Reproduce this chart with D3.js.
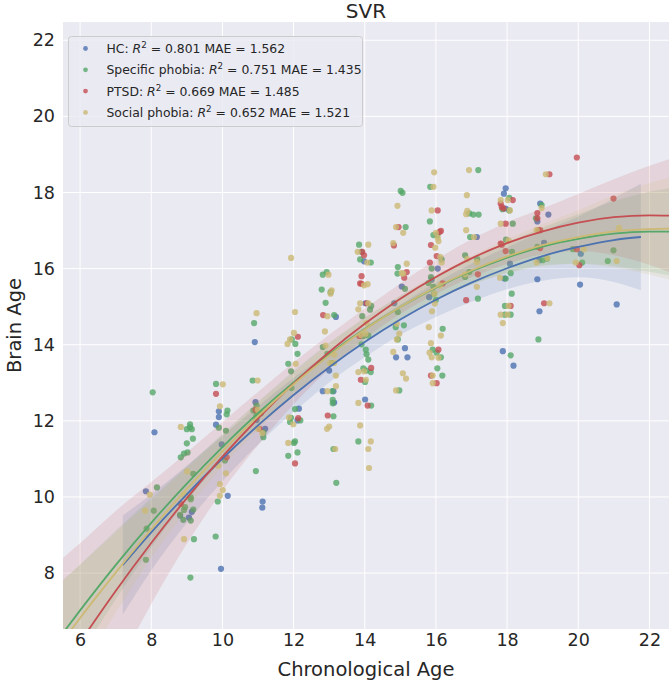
<!DOCTYPE html>
<html><head><meta charset="utf-8">
<script src="https://cdn.jsdelivr.net/npm/d3@7"></script>
<style>body{margin:0;background:#fff}svg{display:block}text{font-family:"DejaVu Sans",sans-serif;fill:#262626}</style>
</head><body><svg id="c" width="669" height="682"></svg>
<script>
// ---- data ----
const groups = ["HC", "Specific phobia", "PTSD", "Social phobia"];
const colors = ["#4C72B0", "#55A868", "#C44E52", "#CCB974"];
const r2 = ["0.801", "0.751", "0.669", "0.652"];
const mae = ["1.562", "1.435", "1.485", "1.521"];
const xTicks = [6, 8, 10, 12, 14, 16, 18, 20, 22];
const yTicks = [8, 10, 12, 14, 16, 18, 20, 22];

const hcPoints = [[8.09,11.70],[7.85,10.15],[8.81,9.51],[9.14,9.61],[9.06,9.46],[9.90,12.25],[9.90,12.10],[9.82,11.90],[9.98,11.38],[10.15,10.03],[9.96,8.11],[10.91,14.07],[10.93,12.49],[10.96,12.02],[11.2,11.79],[11.13,9.88],[11.12,9.72],[12.15,12.32],[12.11,12.01],[13.19,14.73],[13.0,13.32],[12.82,12.78],[13.12,12.78],[13.14,12.48],[13.98,16.19],[14.02,15.09],[14.01,12.56],[15.04,15.53],[14.83,15.09],[14.88,13.67],[15.13,13.91],[15.20,13.67],[16.05,16.0],[15.88,15.71],[15.81,15.25],[17.15,16.83],[17.96,18.11],[17.91,17.97],[17.96,17.58],[18.08,16.13],[17.93,15.74],[17.88,13.83],[18.18,13.45],[18.93,17.71],[19.16,17.42],[18.85,17.24],[19.04,16.68],[18.91,16.22],[18.85,15.72],[18.91,14.88],[20.07,16.39],[20.05,15.58],[21.08,15.06]];
const spPoints = [[8.04,12.75],[8.16,10.25],[8.07,9.64],[7.87,9.17],[7.85,8.35],[9.09,11.91],[9.09,11.83],[9.00,11.78],[9.14,11.78],[9.17,11.53],[9.00,11.41],[9.02,11.17],[8.92,11.14],[8.83,11.04],[9.18,10.61],[9.11,9.99],[9.11,9.94],[8.95,9.73],[8.92,9.66],[9.18,9.67],[8.81,9.53],[8.90,9.40],[9.11,9.38],[9.20,8.89],[9.10,7.88],[9.82,12.97],[10.14,12.27],[10.12,12.17],[9.90,11.82],[10.10,11.74],[10.07,10.96],[9.87,9.88],[9.81,8.96],[10.89,14.57],[10.85,13.06],[10.96,12.40],[10.87,12.27],[11.08,12.20],[10.96,12.14],[11.15,11.70],[11.15,11.57],[10.94,10.68],[11.95,14.14],[12.05,14.02],[12.11,13.76],[11.85,13.50],[11.93,13.30],[11.94,12.86],[12.04,12.31],[11.93,12.08],[11.90,11.97],[12.19,12.01],[12.04,11.46],[12.01,11.42],[11.85,11.08],[12.11,11.17],[12.82,15.84],[12.93,15.91],[12.79,15.45],[13.04,15.38],[12.90,15.10],[13.14,14.78],[12.82,13.94],[12.95,13.76],[13.08,13.52],[13.09,12.78],[13.10,12.55],[13.10,12.46],[13.12,12.12],[13.12,11.26],[13.20,10.37],[13.91,16.44],[13.84,16.63],[13.87,16.24],[14.17,16.16],[14.18,15.02],[14.15,14.92],[13.93,14.75],[13.96,14.23],[14.10,14.24],[13.91,14.01],[14.03,13.87],[14.05,13.75],[14.10,13.61],[13.96,13.38],[14.05,13.32],[14.17,13.28],[14.01,13.02],[14.18,12.40],[13.82,11.46],[15.01,18.04],[15.06,17.99],[15.15,17.09],[14.93,16.04],[14.92,15.87],[15.13,15.47],[14.93,14.86],[14.87,14.46],[15.10,14.51],[14.93,14.14],[14.97,12.80],[15.84,18.15],[15.83,17.24],[15.93,16.88],[16.04,16.88],[16.16,16.24],[15.88,16.0],[15.86,15.78],[15.79,15.62],[15.93,15.52],[15.95,15.34],[16.0,15.18],[16.19,14.42],[15.91,13.87],[16.02,13.79],[16.14,13.67],[16.04,13.38],[16.18,13.19],[17.19,18.59],[16.94,17.45],[17.05,17.42],[17.20,17.42],[16.96,16.83],[16.82,16.35],[17.16,16.25],[16.94,15.91],[16.82,15.78],[17.18,15.21],[18.06,17.86],[17.87,17.56],[18.06,17.53],[18.16,17.18],[17.97,16.76],[18.14,16.44],[18.10,15.88],[17.96,15.74],[18.13,15.34],[17.94,15.02],[17.94,14.79],[18.10,14.79],[18.10,13.72],[18.97,17.67],[18.81,17.32],[18.85,16.57],[19.0,16.22],[19.12,16.26],[18.88,14.14],[19.85,16.51],[20.11,16.16],[20.99,16.48],[20.83,16.20]];
const ptsdPoints = [[8.83,9.82],[9.82,12.71],[10.12,11.04],[10.93,12.29],[11.04,11.79],[12.12,14.21],[12.13,12.07],[12.04,10.88],[12.83,14.78],[12.96,12.14],[13.93,16.44],[13.98,16.35],[13.91,15.80],[13.87,15.61],[13.91,15.60],[14.05,15.09],[13.85,14.23],[14.18,13.39],[13.89,13.08],[14.08,12.40],[14.95,17.09],[14.82,16.61],[15.18,15.91],[15.11,15.76],[16.05,17.53],[16.10,16.96],[16.14,16.99],[15.86,16.62],[16.02,16.33],[15.83,16.16],[16.19,15.61],[16.07,13.87],[15.86,13.19],[16.02,12.99],[17.18,15.85],[16.85,15.17],[18.16,17.80],[17.82,17.71],[17.85,17.62],[17.90,17.58],[17.96,17.18],[17.82,16.66],[17.85,16.63],[17.96,16.46],[18.10,15.02],[19.19,18.48],[18.85,17.46],[18.85,17.32],[18.88,17.01],[18.93,17.01],[18.93,16.54],[19.04,15.09],[19.96,18.92],[19.96,16.51],[20.03,16.09],[20.99,17.84]];
const spcPoints = [[7.96,10.06],[7.83,9.64],[8.83,11.84],[9.01,10.67],[8.92,10.06],[8.92,8.89],[10.01,12.96],[9.93,12.38],[10.10,10.62],[9.88,10.82],[9.93,10.34],[10.01,10.18],[9.93,10.03],[10.96,14.83],[10.99,13.06],[10.99,12.29],[11.0,11.79],[11.12,11.68],[11.93,16.28],[12.04,14.86],[12.01,14.31],[11.90,14.14],[11.83,14.02],[12.06,13.50],[11.87,12.09],[11.99,11.91],[11.85,11.42],[12.98,15.84],[13.07,15.43],[13.04,15.34],[12.95,14.75],[12.88,14.35],[12.90,13.98],[13.14,13.74],[13.02,13.52],[13.14,13.52],[13.19,13.19],[13.19,12.91],[12.95,12.78],[12.94,11.79],[13.0,11.85],[13.17,11.26],[13.80,16.44],[14.10,16.63],[14.07,16.16],[14.08,15.59],[13.98,15.56],[13.87,15.09],[14.10,15.09],[13.82,14.93],[14.05,14.57],[13.89,14.26],[14.02,14.29],[13.82,13.28],[13.98,13.30],[14.03,13.08],[13.82,12.47],[13.87,11.88],[14.17,11.46],[14.10,11.26],[14.12,10.76],[14.92,17.65],[14.88,17.09],[15.08,16.94],[14.80,16.67],[15.18,16.13],[15.04,15.88],[15.08,15.87],[14.90,14.55],[14.97,14.29],[14.90,14.14],[14.80,13.81],[15.07,13.25],[15.16,13.11],[14.88,12.80],[15.95,18.53],[15.93,18.15],[15.88,17.53],[16.0,16.94],[16.05,16.81],[16.07,16.72],[15.98,16.55],[16.12,16.31],[16.16,16.16],[16.12,15.56],[15.96,15.34],[15.97,15.08],[15.89,14.88],[15.80,14.46],[15.86,14.04],[16.14,14.24],[15.82,13.79],[15.88,13.67],[16.07,13.66],[15.91,13.19],[15.91,12.99],[16.93,18.59],[16.87,17.93],[16.88,17.52],[16.85,17.43],[16.85,17.01],[17.07,16.83],[16.88,16.25],[17.15,16.17],[16.82,15.85],[17.15,15.52],[17.82,17.80],[18.02,17.80],[18.08,17.53],[17.82,17.18],[18.04,16.74],[17.80,15.76],[18.04,15.02],[17.82,14.79],[18.01,14.79],[17.88,14.57],[19.09,18.48],[18.97,17.59],[18.83,17.01],[18.83,16.16],[19.13,16.28],[19.19,15.09],[20.16,16.51],[19.93,16.16],[21.15,17.07],[21.08,16.20]];

// regression curves (value and CI half-width per age)
const fitAges   = [5.5, 6, 7, 8, 9, 10, 11, 12, 13, 14, 15, 16, 17, 18, 19, 20, 21, 22, 22.6];
const spFit     = [6.40, 7.02, 8.21, 9.32, 10.35, 11.31, 12.20, 13.01, 13.75, 14.41, 14.99, 15.50, 15.93, 16.29, 16.58, 16.78, 16.92, 16.97, 16.97];
const spHalf    = [1.4, 1.2, 0.9, 0.65, 0.45, 0.35, 0.3, 0.3, 0.3, 0.3, 0.3, 0.3, 0.35, 0.4, 0.5, 0.65, 0.85, 1.05, 1.15];
const ptsdFit   = [5.48, 6.18, 7.53, 8.79, 9.97, 11.06, 12.06, 12.98, 13.81, 14.55, 15.21, 15.78, 16.27, 16.67, 16.98, 17.21, 17.35, 17.40, 17.39];
const ptsdHalf  = [2.9, 2.6, 2.1, 1.6, 1.2, 0.9, 0.7, 0.55, 0.45, 0.4, 0.4, 0.45, 0.5, 0.55, 0.6, 0.75, 1.0, 1.3, 1.5];
const spcFit    = [6.20, 6.82, 8.01, 9.15, 10.21, 11.20, 12.12, 12.96, 13.72, 14.40, 14.99, 15.51, 15.95, 16.32, 16.62, 16.83, 16.98, 17.04, 17.05];
const spcHalf   = [1.6, 1.4, 1.05, 0.75, 0.55, 0.4, 0.35, 0.3, 0.3, 0.3, 0.3, 0.32, 0.38, 0.45, 0.55, 0.7, 0.95, 1.2, 1.35];
const hcFitAges = [7.2, 8, 9, 10, 11, 12, 13, 14, 15, 16, 17, 18, 19, 20, 21, 21.76];
const hcFit     = [8.21, 9.07, 10.07, 11.01, 11.88, 12.68, 13.41, 14.07, 14.66, 15.18, 15.63, 16.01, 16.33, 16.57, 16.75, 16.83];
const hcHalf    = [1.3, 1.0, 0.75, 0.6, 0.5, 0.45, 0.4, 0.4, 0.4, 0.45, 0.5, 0.55, 0.65, 0.8, 1.1, 1.4];

// ---- drawing ----
const L = 63, T = 22, R = 669, B = 629;
const svg = d3.select("#c");
const x = d3.scaleLinear().domain([5.52, 22.55]).range([L, R]);
const y = d3.scaleLinear().domain([6.53, 22.48]).range([B, T]);

svg.append("defs").append("clipPath").attr("id", "clip")
  .append("rect").attr("x", L).attr("y", T).attr("width", R - L).attr("height", B - T);

svg.append("rect").attr("x", L).attr("y", T).attr("width", R - L).attr("height", B - T).attr("fill", "#EAEAF2");

// grid
const grid = svg.append("g");
grid.selectAll(".gx").data(xTicks).join("line")
  .attr("x1", d => x(d)).attr("x2", d => x(d)).attr("y1", T).attr("y2", B)
  .attr("stroke", "#fff").attr("stroke-width", 1);
grid.selectAll(".gy").data(yTicks).join("line")
  .attr("y1", d => y(d)).attr("y2", d => y(d)).attr("x1", L).attr("x2", R)
  .attr("stroke", "#fff").attr("stroke-width", 1);

// axes (tick labels only, seaborn darkgrid style)
const xAxis = d3.axisBottom(x).tickValues(xTicks).tickSize(0).tickPadding(5).tickFormat(d3.format("d"));
const gx = svg.append("g").attr("transform", `translate(0,${B})`).call(xAxis);
gx.select(".domain").remove();
gx.selectAll("text").attr("font-size", 17.5).attr("fill", "#262626").attr("font-family", "DejaVu Sans");
const yAxis = d3.axisLeft(y).tickValues(yTicks).tickSize(0).tickPadding(8).tickFormat(d3.format("d"));
const gy = svg.append("g").attr("transform", `translate(${L},0)`).call(yAxis);
gy.select(".domain").remove();
gy.selectAll("text").attr("font-size", 17.5).attr("fill", "#262626").attr("font-family", "DejaVu Sans");

const plot = svg.append("g").attr("clip-path", "url(#clip)");

const series = [
  {pts: hcPoints, ages: hcFitAges, fit: hcFit, half: hcHalf},
  {pts: spPoints, ages: fitAges, fit: spFit, half: spHalf},
  {pts: ptsdPoints, ages: fitAges, fit: ptsdFit, half: ptsdHalf},
  {pts: spcPoints, ages: fitAges, fit: spcFit, half: spcHalf}
];

const area = d3.area().curve(d3.curveMonotoneX)
  .x(d => x(d.a)).y0(d => y(d.v - d.h)).y1(d => y(d.v + d.h));
const line = d3.line().curve(d3.curveMonotoneX).x(d => x(d.a)).y(d => y(d.v));

// scatter + band per group (same layer, in order), then lines on top
series.forEach((s, i) => {
  plot.append("g").selectAll("circle").data(s.pts).join("circle")
    .attr("cx", d => x(d[0])).attr("cy", d => y(d[1])).attr("r", 3.1)
    .attr("fill", colors[i]).attr("fill-opacity", 0.8);
  const rows = s.ages.map((a, k) => ({a, v: s.fit[k], h: s.half[k]}));
  plot.append("path").datum(rows).attr("d", area)
    .attr("fill", colors[i]).attr("fill-opacity", 0.15);
});
series.forEach((s, i) => {
  const rows = s.ages.map((a, k) => ({a, v: s.fit[k]}));
  plot.append("path").datum(rows).attr("d", line)
    .attr("fill", "none").attr("stroke", colors[i]).attr("stroke-width", 1.8);
});

// title and labels
svg.append("text").attr("x", (L + R) / 2).attr("y", 18).attr("text-anchor", "middle")
  .attr("font-size", 20).text("SVR");
svg.append("text").attr("x", (L + R) / 2).attr("y", 676).attr("text-anchor", "middle")
  .attr("font-size", 19.5).text("Chronological Age");
svg.append("text").attr("transform", `translate(21,${(T + B) / 2}) rotate(-90)`)
  .attr("text-anchor", "middle").attr("font-size", 19.5).text("Brain Age");

// legend
const lg = svg.append("g");
lg.append("rect").attr("x", 68.5).attr("y", 36.5).attr("width", 294).attr("height", 90).attr("rx", 3)
  .attr("fill", "#EAEAF2").attr("fill-opacity", 0.8).attr("stroke", "#cccccc").attr("stroke-width", 1);
groups.forEach((g, i) => {
  const cy = 48.5 + i * 21.3;
  lg.append("circle").attr("cx", 85.5).attr("cy", cy).attr("r", 2.4)
    .attr("fill", colors[i]).attr("fill-opacity", 0.8);
  const t = lg.append("text").attr("x", 106.5).attr("y", cy + 4.6).attr("font-size", 12.4);
  t.append("tspan").text(g + ": ");
  t.append("tspan").attr("font-style", "italic").text("R");
  t.append("tspan").attr("font-size", 8.7).attr("dy", -5).text("2");
  t.append("tspan").attr("dy", 5).text(" = " + r2[i] + " MAE = " + mae[i]);
});
</script></body></html>
